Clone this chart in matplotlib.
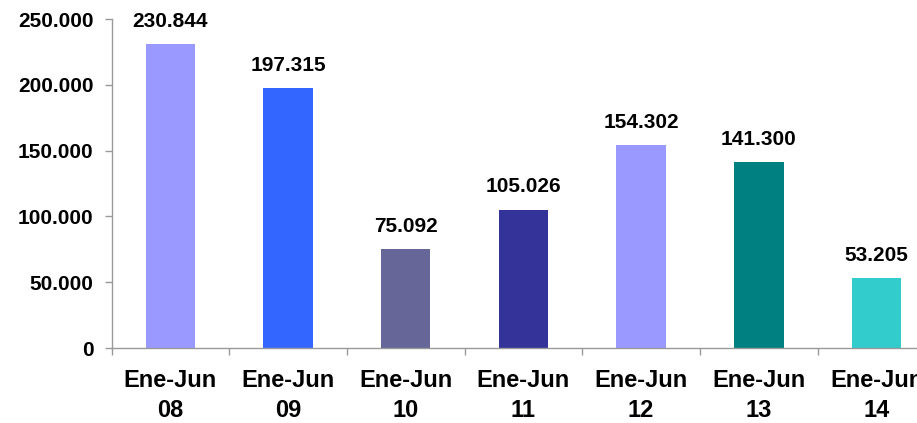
import numpy as np
import matplotlib.pyplot as plt
from matplotlib.ticker import FuncFormatter, MultipleLocator

periods = ["Ene-Jun\n08", "Ene-Jun\n09", "Ene-Jun\n10", "Ene-Jun\n11",
           "Ene-Jun\n12", "Ene-Jun\n13", "Ene-Jun\n14"]
values = [230844, 197315, 75092, 105026, 154302, 141300, 53205]
bar_colors = ["#9999FF", "#3366FF", "#666699", "#333399",
              "#9999FF", "#008080", "#33CCCC"]

plt.rcParams["font.family"] = ["Liberation Sans", "DejaVu Sans"]
plt.rcParams["font.weight"] = "bold"


def thousands(v, _pos):
    # spanish style: dot as thousands separator
    return f"{int(v):,}".replace(",", ".")


fig = plt.figure(figsize=(9.17, 4.23), dpi=100)
# the plot area runs past the right edge in the original, so keep it that way
ax = fig.add_axes([111.5 / 917, 1 - 348 / 423, 7 * 117.7 / 917, (348 - 19) / 423])

x = np.arange(len(values))
ax.bar(x, values, width=0.42, color=bar_colors, zorder=2)

for xi, v in zip(x, values):
    ax.annotate(thousands(v, None), (xi, v), xytext=(0, 16.5),
                textcoords="offset points", ha="center", va="center",
                fontsize=15, fontweight="bold")

ax.set_xlim(-0.5, len(values) - 0.5)
ax.set_ylim(0, 250000)
ax.yaxis.set_major_locator(MultipleLocator(50000))
ax.yaxis.set_major_formatter(FuncFormatter(thousands))

ax.set_xticks(x)
ax.set_xticklabels(periods, fontsize=17, fontweight="bold", linespacing=1.4)
ax.set_xticks(np.arange(len(values) + 1) - 0.5, minor=True)
ax.tick_params(axis="x", which="major", length=0, pad=15)
ax.tick_params(axis="x", which="minor", length=5, width=1, color="#999999", direction="out")
ax.tick_params(axis="y", length=5, width=1, color="#999999", pad=8, labelsize=15)

for side in ["top", "right"]:
    ax.spines[side].set_visible(False)
for side in ["left", "bottom"]:
    ax.spines[side].set_color("#999999")
    ax.spines[side].set_linewidth(1)

fig.savefig("out.png", dpi=100)
